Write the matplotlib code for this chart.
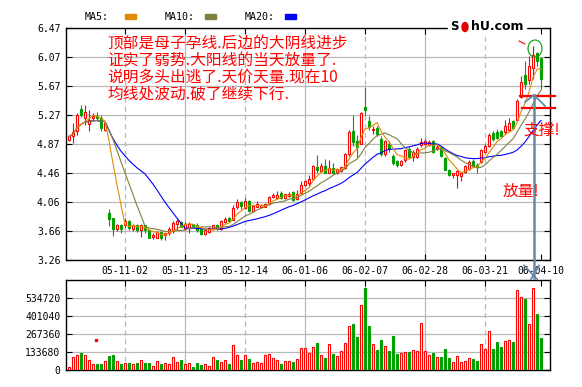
import numpy as np
import pandas as pd
import matplotlib
matplotlib.use('Agg')
import matplotlib.pyplot as plt
from matplotlib.patches import Rectangle, Ellipse
from matplotlib.lines import Line2D
import matplotlib.transforms as mtransforms

W, H = 582, 387

# daily prices (one entry per session)
open_ = [4.92, 4.98, 5.04, 5.35, 5.22, 5.14, 5.22, 5.25, 5.23, 5.06,
         3.91, 3.84, 3.69, 3.75, 3.74, 3.80, 3.69, 3.75, 3.68, 3.74,
         3.67, 3.58, 3.57, 3.65, 3.60, 3.63, 3.66, 3.76, 3.79, 3.69,
         3.70, 3.76, 3.75, 3.69, 3.62, 3.65, 3.69, 3.74, 3.69, 3.78,
         3.84, 3.82, 3.99, 4.06, 3.98, 4.08, 3.94, 4.00, 4.00, 4.00,
         4.03, 4.13, 4.12, 4.19, 4.12, 4.14, 4.20, 4.10, 4.19, 4.30,
         4.33, 4.38, 4.55, 4.49, 4.56, 4.47, 4.53, 4.46, 4.49, 4.53,
         4.72, 5.04, 4.90, 4.87, 5.38, 5.19, 5.06, 5.09, 4.94, 4.72,
         4.86, 4.70, 4.63, 4.58, 4.64, 4.80, 4.69, 4.69, 4.85, 4.86,
         4.85, 4.90, 4.80, 4.83, 4.67, 4.51, 4.43, 4.44, 4.42, 4.48,
         4.52, 4.63, 4.58, 4.61, 4.76, 4.84, 5.02, 5.03, 5.04, 5.03,
         5.06, 5.18, 5.20, 5.52, 5.82, 5.75, 5.92, 6.12, 6.05]
high = [4.99, 5.15, 5.29, 5.41, 5.41, 5.33, 5.29, 5.31, 5.27, 5.17,
        3.97, 3.84, 3.76, 3.76, 3.84, 3.82, 3.76, 3.76, 3.76, 3.75,
        3.67, 3.63, 3.66, 3.66, 3.63, 3.71, 3.80, 3.83, 3.80, 3.78,
        3.78, 3.76, 3.77, 3.70, 3.68, 3.72, 3.75, 3.76, 3.81, 3.85,
        3.86, 4.02, 4.10, 4.08, 4.12, 4.09, 4.02, 4.08, 4.03, 4.05,
        4.14, 4.19, 4.22, 4.21, 4.18, 4.20, 4.21, 4.23, 4.35, 4.37,
        4.43, 4.57, 4.71, 4.60, 4.66, 4.65, 4.60, 4.53, 4.55, 4.74,
        5.06, 5.27, 4.99, 5.31, 5.66, 5.25, 5.11, 5.11, 4.97, 4.92,
        4.90, 4.72, 4.64, 4.65, 4.80, 4.82, 4.78, 4.82, 4.95, 4.93,
        4.92, 4.92, 4.85, 4.84, 4.68, 4.52, 4.47, 4.50, 4.48, 4.58,
        4.65, 4.66, 4.60, 4.80, 4.86, 5.02, 5.04, 5.07, 5.06, 5.20,
        5.23, 5.20, 5.49, 5.80, 6.02, 6.08, 6.22, 6.14, 6.07]
low = [4.90, 4.88, 4.99, 5.24, 5.13, 5.04, 5.19, 5.18, 5.05, 5.05,
       3.73, 3.59, 3.66, 3.64, 3.70, 3.68, 3.66, 3.65, 3.58, 3.64,
       3.56, 3.55, 3.56, 3.54, 3.53, 3.60, 3.63, 3.68, 3.71, 3.67,
       3.64, 3.72, 3.65, 3.61, 3.61, 3.64, 3.68, 3.68, 3.68, 3.77,
       3.79, 3.81, 3.96, 3.96, 3.96, 3.93, 3.92, 3.99, 3.99, 3.99,
       4.02, 4.12, 4.11, 4.11, 4.11, 4.13, 4.08, 4.09, 4.18, 4.29,
       4.29, 4.37, 4.47, 4.48, 4.46, 4.46, 4.45, 4.45, 4.48, 4.52,
       4.70, 4.84, 4.69, 4.86, 5.27, 5.06, 5.01, 4.97, 4.70, 4.70,
       4.75, 4.57, 4.55, 4.56, 4.62, 4.68, 4.63, 4.67, 4.83, 4.84,
       4.84, 4.74, 4.78, 4.69, 4.50, 4.42, 4.40, 4.26, 4.35, 4.46,
       4.50, 4.55, 4.47, 4.60, 4.74, 4.82, 4.91, 4.94, 4.96, 5.01,
       5.05, 5.07, 5.18, 5.50, 5.62, 5.70, 5.76, 5.95, 5.62]
close = [4.97, 5.03, 5.27, 5.27, 5.31, 5.20, 5.25, 5.22, 5.09, 5.15,
         3.83, 3.69, 3.74, 3.69, 3.80, 3.70, 3.75, 3.67, 3.74, 3.67,
         3.56, 3.61, 3.65, 3.57, 3.63, 3.69, 3.77, 3.80, 3.72, 3.76,
         3.76, 3.73, 3.67, 3.62, 3.67, 3.70, 3.74, 3.69, 3.80, 3.83,
         3.80, 3.98, 4.06, 4.01, 4.07, 3.94, 4.01, 4.03, 4.02, 4.04,
         4.13, 4.16, 4.16, 4.12, 4.17, 4.18, 4.09, 4.18, 4.30, 4.35,
         4.38, 4.56, 4.51, 4.56, 4.47, 4.53, 4.46, 4.52, 4.54, 4.72,
         5.03, 4.89, 4.82, 5.30, 5.33, 5.10, 5.07, 5.00, 4.73, 4.90,
         4.80, 4.60, 4.57, 4.63, 4.78, 4.69, 4.76, 4.80, 4.89, 4.90,
         4.89, 4.75, 4.83, 4.70, 4.51, 4.44, 4.46, 4.49, 4.46, 4.56,
         4.61, 4.56, 4.55, 4.78, 4.84, 4.99, 4.93, 4.95, 4.97, 5.12,
         5.16, 5.09, 5.46, 5.72, 5.70, 5.95, 6.10, 6.02, 5.76]
volume = [20, 94, 109, 126, 109, 72, 45, 45, 45, 67,
          104, 111, 67, 45, 52, 52, 45, 52, 74, 52,
          52, 30, 67, 45, 52, 45, 97, 59, 74, 45,
          52, 22, 52, 37, 45, 30, 97, 74, 59, 74,
          45, 186, 111, 74, 111, 82, 52, 59, 52, 111,
          119, 89, 74, 45, 67, 67, 59, 82, 163, 163,
          126, 171, 200, 111, 89, 193, 119, 104, 141, 200,
          327, 342, 245, 483, 609, 327, 193, 149, 223, 178,
          141, 253, 119, 126, 134, 134, 149, 141, 349, 141,
          111, 126, 97, 97, 156, 89, 59, 104, 59, 67,
          89, 82, 67, 193, 156, 290, 156, 208, 171, 215,
          223, 208, 594, 542, 527, 342, 609, 416, 238]
volume = [v * 1000 for v in volume]

price_ticks = [3.26, 3.66, 4.06, 4.46, 4.87, 5.27, 5.67, 6.07, 6.47]
vol_ticks = [0, 133680, 267360, 401040, 534720]
date_pos = [14, 29, 44, 59, 74, 89, 104, 118]
date_labels = ['05-11-02', '05-11-23', '05-12-14', '06-01-06',
               '06-02-07', '06-02-28', '06-03-21', '06-04-10']
note_lines = ['顶部是母子孕线.后边的大阴线进步',
              '证实了弱势.大阳线的当天放量了.',
              '说明多头出逃了.天价天量.现在10',
              '均线处波动.破了继续下行.']

RED = '#ff0000'
GREEN = '#00a000'
GRID = '#b8b8b8'
MONO = 'DejaVu Sans Mono'
CJK = ['Noto Sans CJK SC', 'DejaVu Sans']

n = len(close)
idx = np.arange(n)
s = pd.Series(close)
ma5 = s.rolling(5, min_periods=1).mean()
ma10 = s.rolling(10, min_periods=1).mean()
ma20 = s.rolling(20, min_periods=1).mean()
up = np.array(close) >= np.array(open_)

fig = plt.figure(figsize=(W / 100, H / 100), dpi=100)
fig.patch.set_facecolor('white')
px = mtransforms.Affine2D().scale(1 / W, -1 / H).translate(0, 1) + fig.transFigure


def box(l, t, r, b):
    return [l / W, 1 - b / H, (r - l) / W, (b - t) / H]


ax = fig.add_axes(box(66, 28, 550, 260))
axv = fig.add_axes(box(66, 280, 550, 370))

for a in (ax, axv):
    a.set_xlim(-0.75, 120.25)
    for sp in a.spines.values():
        sp.set_linewidth(1.0)
        sp.set_color('black')
    for k, p in enumerate(date_pos[:-1]):
        a.axvline(p, color=GRID, lw=0.9, ls=(0, (4, 3)) if k % 2 == 0 else '-', zorder=0)
    a.tick_params(direction='in', length=4, width=0.8, top=True, right=True,
                  labelsize=7, pad=4)
    a.set_xticks(date_pos)

# price panel
ax.set_ylim(3.26, 6.47)
ax.set_yticks(price_ticks)
ax.set_yticklabels(['%.2f' % t for t in price_ticks], family=MONO)
ax.set_xticklabels(date_labels, family=MONO)
ax.grid(axis='y', color=GRID, lw=0.9, zorder=0)
ax.set_axisbelow(True)

for i in idx:
    col = RED if up[i] else GREEN
    ax.vlines(i, low[i], high[i], color=col, lw=0.8, zorder=2)
    bot = min(open_[i], close[i])
    hgt = max(abs(close[i] - open_[i]), 0.006)
    ax.add_patch(Rectangle((i - 0.35, bot), 0.7, hgt,
                           facecolor='white' if up[i] else GREEN,
                           edgecolor=col, lw=0.8, zorder=3))

ax.plot(idx, ma20, color='#0000ff', lw=0.8, zorder=4)
ax.plot(idx, ma10, color='#7f7f40', lw=0.8, zorder=4)
ax.plot(idx, ma5, color='#e08a00', lw=0.8, zorder=4)

# volume panel
axv.set_ylim(0, 668400)
axv.set_yticks(vol_ticks)
axv.set_yticklabels([str(t) for t in vol_ticks], family=MONO)
axv.set_xticklabels([])
axv.grid(axis='y', color=GRID, lw=0.9, zorder=0)
axv.set_axisbelow(True)
axv.bar(idx, volume, width=0.7,
        color=['white' if u else GREEN for u in up],
        edgecolor=[RED if u else GREEN for u in up], lw=0.8, zorder=3)

# legend row
for label, x0, c in [('MA5:', 85, '#e08a00'), ('MA10:', 165, '#7f7f40'), ('MA20:', 245, '#0000ff')]:
    fig.text(x0, 16.5, label, transform=px, family=MONO, fontsize=7.2, va='center')
    fig.add_artist(Rectangle((x0 + 40, 14), 11, 4.5, transform=px, color=c))

# sohu logo breaking the top border
fig.add_artist(Rectangle((448, 19), 78, 15, transform=px, color='white', zorder=5))
fig.text(450, 27, 'S', transform=px, fontsize=8.5, weight='bold', va='center', zorder=6)
fig.add_artist(Ellipse((465, 27), 6, 9, transform=px, color='#e00000', zorder=6))
fig.text(470.5, 27, 'hU.com', transform=px, fontsize=9, weight='bold', va='center', zorder=6)

# hand-drawn notes
for k, line in enumerate(note_lines):
    fig.text(107, 43.5 + 16.7 * k, line, transform=px, family=CJK, fontsize=11.3,
             color=RED, va='center', zorder=6)
fig.text(523, 130, '支撑!', transform=px, family=CJK, fontsize=11.3, color=RED, va='center', zorder=7)
fig.text(503, 191, '放量!', transform=px, family=CJK, fontsize=11.3, color=RED, va='center', zorder=7)

fig.add_artist(Ellipse((535, 48.5), 14, 17, transform=px, fill=False, edgecolor=GREEN, lw=0.8, zorder=6))
fig.add_artist(Line2D([519, 525], [41, 44], transform=px, color=RED, lw=0.8, zorder=6))
fig.add_artist(Line2D([520, 555], [95.7, 95.7], transform=px, color=RED, lw=1.6, zorder=6))
fig.add_artist(Line2D([522, 555], [108.3, 108.3], transform=px, color=RED, lw=1.6, zorder=6))

STEEL = '#6689a8'
fig.add_artist(Line2D([534, 534], [95, 278], transform=px, color=STEEL, lw=1.8, zorder=6))
fig.add_artist(Line2D([525, 534, 545], [102, 95, 106], transform=px, color=STEEL, lw=1.3, zorder=6))
fig.add_artist(Line2D([524, 537], [265.5, 279], transform=px, color=STEEL, lw=1.3, zorder=6))
fig.add_artist(Line2D([539, 531], [265.5, 279], transform=px, color=STEEL, lw=1.3, zorder=6))
fig.add_artist(Rectangle((95, 339), 2, 2, transform=px, color=RED, zorder=6))

fig.savefig('out.png', dpi=100)
